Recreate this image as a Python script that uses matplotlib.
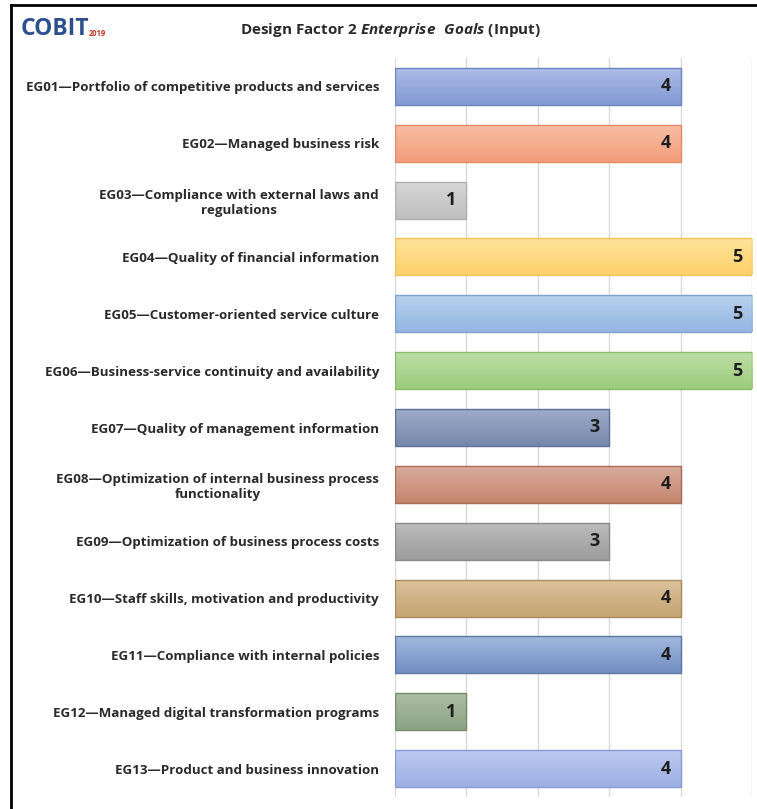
import numpy as np
import matplotlib.pyplot as plt
from matplotlib.colors import LinearSegmentedColormap
from matplotlib.lines import Line2D

plt.rcParams['font.family'] = ['Open Sans', 'DejaVu Sans']
plt.rcParams['mathtext.fontset'] = 'custom'
plt.rcParams['mathtext.it'] = 'Open Sans:italic:bold'
plt.rcParams['mathtext.rm'] = 'Open Sans:bold'

goals = [
    'EG01\u2014Portfolio of competitive products and services',
    'EG02\u2014Managed business risk',
    'EG03\u2014Compliance with external laws and\nregulations',
    'EG04\u2014Quality of financial information',
    'EG05\u2014Customer-oriented service culture',
    'EG06\u2014Business-service continuity and availability',
    'EG07\u2014Quality of management information',
    'EG08\u2014Optimization of internal business process\nfunctionality',
    'EG09\u2014Optimization of business process costs',
    'EG10\u2014Staff skills, motivation and productivity',
    'EG11\u2014Compliance with internal policies',
    'EG12\u2014Managed digital transformation programs',
    'EG13\u2014Product and business innovation',
]
scores = [4, 4, 1, 5, 5, 5, 3, 4, 3, 4, 4, 1, 4]

# (top, bottom, edge) shades for each bar
top_colors = ['#aebde8', '#f8bea3', '#d6d6d6', '#ffe39a', '#b9d1ee', '#bddfa6', '#9eacc8',
              '#d8ab9a', '#bcbcbc', '#dbc29c', '#a2b8de', '#adbea5', '#bccaf0']
bottom_colors = ['#8199d2', '#f39c7a', '#bfbfbf', '#ffd06a', '#93b6e1', '#9ccb7e', '#7787ab',
                 '#c5866f', '#9c9c9c', '#c6a373', '#728fc2', '#8ca283', '#9db0e4']
edge_colors = ['#6d84c2', '#e38b68', '#b0b0b0', '#f3c15a', '#7ea3d2', '#8bba6d', '#5f6f95',
               '#a96c57', '#8a8a8a', '#ad8a5c', '#5b77a3', '#778b6e', '#899bd3']

fig = plt.figure(figsize=(7.57, 8.09), dpi=100)
W, H = 757, 809
ax = fig.add_axes([395 / W, 1 - 797 / H, 357 / W, 739 / H])

y = np.arange(len(goals))
bars = ax.barh(y, scores, height=0.65, color='none', edgecolor='none', zorder=2)

for i, (b, v) in enumerate(zip(bars, scores)):
    cmap = LinearSegmentedColormap.from_list('g', [top_colors[i], bottom_colors[i]])
    x0, y0 = b.get_x(), b.get_y()
    w, h = b.get_width(), b.get_height()
    grad = np.linspace(0, 1, 64).reshape(-1, 1)
    im = ax.imshow(grad, cmap=cmap, aspect='auto', extent=(x0, x0 + w, y0 + h, y0),
                   interpolation='bilinear', zorder=2)
    im.set_clip_path(b)
    ax.add_patch(plt.Rectangle((x0, y0), w, h, fill=False, edgecolor=edge_colors[i],
                               linewidth=1.0, zorder=3))
    ax.text(v - 0.14, i, str(v), ha='right', va='center', fontsize=13,
            fontweight='bold', color='#1e1e1e', zorder=4)

ax.set_xlim(0, 5)
ax.set_ylim(len(goals) - 0.5, -0.5)
ax.set_xticks(range(6))
ax.xaxis.grid(True, color='#d9d9d9', linewidth=1.0)
ax.set_axisbelow(True)
ax.tick_params(left=False, bottom=False, labelbottom=False)
for s in ax.spines.values():
    s.set_visible(False)
ax.set_yticks(y)
ax.set_yticklabels(goals, fontsize=9.6, fontweight='bold', color='#2a2a2a',
                   multialignment='center')
ax.tick_params(axis='y', pad=8)

# frame lines on the left and top
fig.add_artist(Line2D([11 / W, 11 / W], [0, 1 - 5 / H], color='black', linewidth=2))
fig.add_artist(Line2D([11 / W, 1], [1 - 5 / H, 1 - 5 / H], color='black', linewidth=2))

# logo and title
fig.text(21 / W, 1 - 29 / H, 'COBIT', fontsize=16.5, fontweight='bold', color='#2c4f8f',
         va='center', ha='left')
fig.text(89 / W, 1 - 33 / H, '2019', fontsize=5.5, fontweight='bold', color='#c0392b',
         va='center', ha='left')
fig.text(391 / W, 1 - 30 / H, r'Design Factor 2 $\mathit{Enterprise\ \ Goals}$ (Input)',
         fontsize=11, fontweight='bold', color='#2a2a2a', ha='center', va='center')

fig.savefig('out.png', dpi=100, facecolor='white')
